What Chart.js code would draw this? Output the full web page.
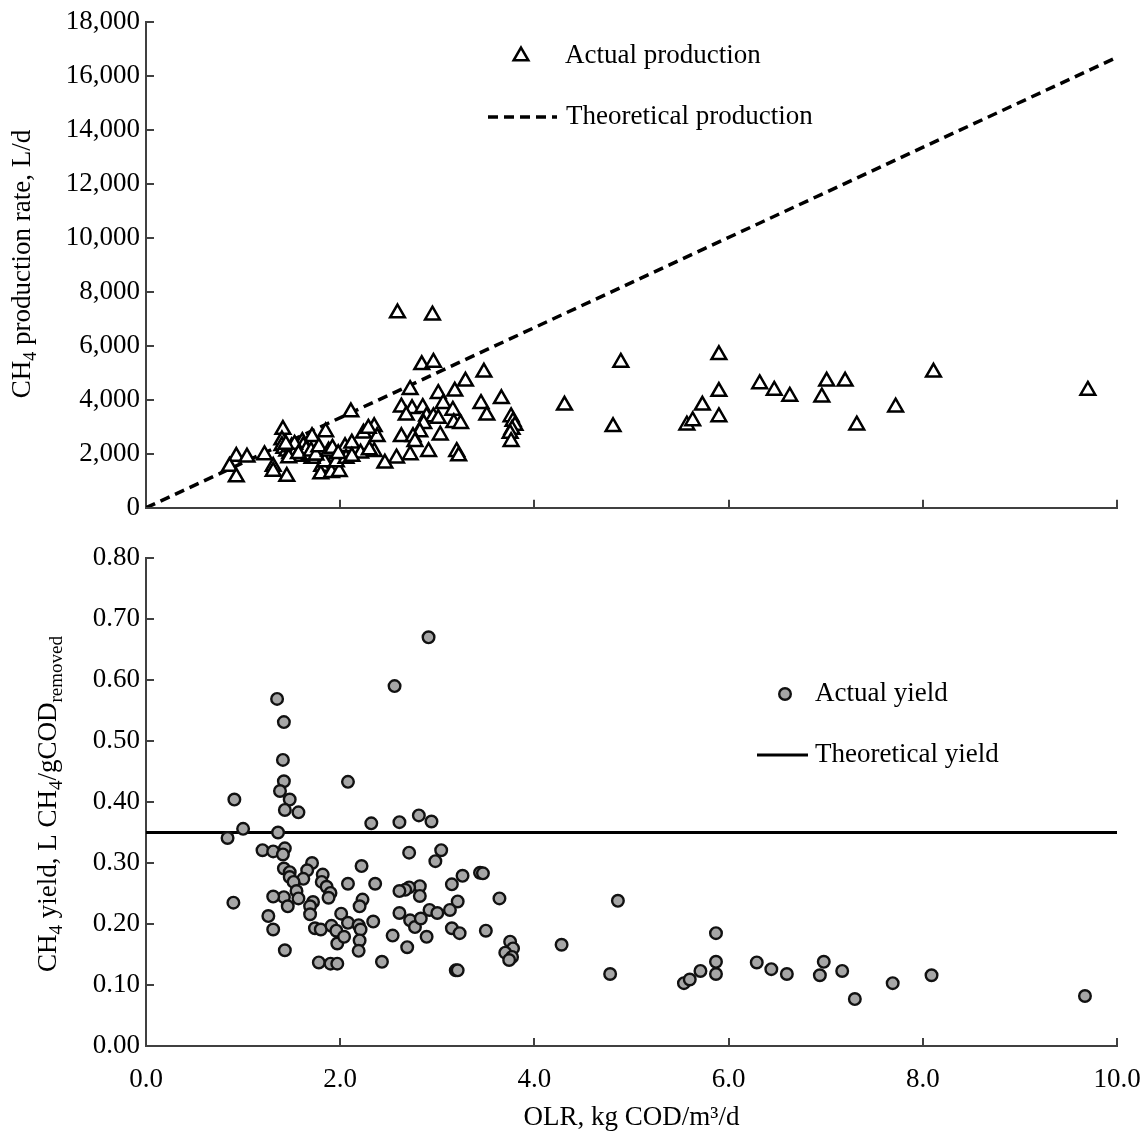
<!DOCTYPE html>
<html>
<head>
<meta charset="utf-8">
<script src="https://cdn.jsdelivr.net/npm/chart.js@4.4.1/dist/chart.umd.min.js"></script>
<style>
  html, body { margin: 0; padding: 0; background: #fff; }
  #wrap { position: relative; width: 1145px; height: 1137px; }
  #topBox { position: absolute; left: 0; top: 0; }
  #botBox { position: absolute; left: 0; top: 530px; }
</style>
</head>
<body>
<div id="wrap">
  <div id="topBox"><canvas id="prodChart" width="1145" height="530"></canvas></div>
  <div id="botBox"><canvas id="yieldChart" width="1145" height="607"></canvas></div>
</div>
<script>
// Top panel: CH4 production rate (L/d) vs OLR
const prodOLR = [
  2.59, 2.95, 2.84, 2.96, 3.48, 3.29, 2.72, 3.01, 3.18, 3.66, 3.06, 3.45, 2.63, 2.74, 2.85,
  2.68, 2.89, 3.16, 3.51, 2.96, 3.01, 3.17, 3.24, 2.86, 2.82, 2.35, 2.38, 2.63, 2.75, 3.03,
  2.77, 2.35, 2.72, 2.58, 2.46, 2.91, 3.20, 3.22, 3.76, 3.78, 3.80, 3.77, 3.75, 3.76,
  2.11, 1.41, 0.93, 1.04, 0.86, 0.93, 1.22, 1.31, 1.40, 1.40, 1.45, 1.31, 1.71, 1.85, 1.81,
  1.80, 1.91, 1.99, 2.05, 2.12, 2.24, 2.29, 2.21, 2.30, 1.88, 1.95, 1.54, 1.61, 1.84, 1.71,
  1.64, 1.96, 2.06, 2.12,
  1.42, 1.45, 1.48, 1.50, 1.52, 1.55, 1.58, 1.60, 1.62, 1.65, 1.68, 1.47, 1.53, 1.44, 1.57,
  1.70, 1.75, 1.78, 1.88, 1.92, 1.98,
  4.31, 4.81, 4.89, 5.57, 5.63, 5.73, 5.90, 5.90, 5.90, 6.32, 6.47, 6.63, 6.96, 7.01, 7.20,
  7.32, 7.72, 8.11, 9.70
];
const prodRate = [
  7220, 7140, 5300, 5390, 5020, 4690, 4380, 4230, 4320, 4040, 3860, 3860, 3730, 3670, 3710,
  3430, 3390, 3610, 3430, 3370, 3310, 3150, 3120, 3120, 2810, 3000, 2630, 2630, 2630, 2690,
  2450, 2080, 1960, 1840, 1650, 2080, 2080, 1920, 3370, 3200, 3050, 2900, 2750, 2450,
  3550, 2900, 1900, 1870, 1530, 1140, 1960, 1530, 2510, 2300, 1160, 1350, 2630, 2810, 1530,
  1250, 1300, 1340, 2260, 2390, 2760, 2940, 2020, 2140, 1960, 1900, 2260, 2450, 1700, 1830,
  2010, 1700, 1830, 1900,
  2200, 2100, 2000, 2250, 1950, 2150, 2050, 1900, 2300, 2150, 1950, 1850, 2350, 2350, 2000,
  2100, 1950, 2250, 2100, 2200, 2000,
  3800, 3000, 5390, 3060, 3220, 3800, 5670, 4310, 3370, 4590, 4350, 4130, 4100, 4690, 4690,
  3060, 3730, 5020, 4350
];
const theoOLR = [0, 10];
const theoProd = [0, 16700];

// Bottom panel: CH4 yield (L CH4/g COD removed) vs OLR
const yieldOLR = [
  2.91, 2.56, 1.35, 1.42, 1.41, 1.42, 1.38, 1.48, 1.43, 1.57, 0.91, 2.08, 1.00, 0.84, 1.36,
  2.32, 2.61, 2.81, 2.94, 1.20, 1.31, 1.43, 1.41, 2.71, 3.04, 2.98, 1.71, 1.66, 2.22, 1.42,
  1.48, 1.48, 1.62, 1.82, 1.81, 1.86, 1.90, 1.88, 1.52, 1.55, 1.57, 1.42, 1.31, 1.46, 0.90,
  2.08, 2.36, 2.82, 2.71, 2.67, 2.61, 2.82, 3.15, 3.26, 3.44, 3.64, 3.21, 3.13, 2.92, 3.00,
  2.61, 2.23, 2.20, 1.72, 1.69, 1.69, 1.26, 2.01, 1.31, 1.43, 1.74, 1.80, 1.78, 1.90, 1.97,
  1.91, 1.96, 1.97, 2.08, 2.04, 2.19, 2.21, 2.20, 2.19, 2.34, 2.43, 2.54, 2.69, 2.72, 2.77,
  2.83, 2.89, 3.15, 3.23, 3.19, 3.21, 3.50, 3.47, 3.75, 3.78, 3.70, 3.77, 3.74,
  4.28, 4.86, 4.78, 5.54, 5.60, 5.71, 5.87, 5.87, 5.87, 6.29, 6.44, 6.60, 6.94, 6.98, 7.17,
  7.30, 7.69, 8.09, 9.67
];
const yieldVal = [
  0.670, 0.590, 0.569, 0.531, 0.469, 0.434, 0.418, 0.404, 0.387, 0.383, 0.404, 0.433, 0.356, 0.341, 0.350,
  0.365, 0.367, 0.378, 0.368, 0.321, 0.319, 0.324, 0.314, 0.317, 0.321, 0.303, 0.300, 0.288, 0.295, 0.291,
  0.285, 0.277, 0.274, 0.281, 0.269, 0.261, 0.251, 0.243, 0.269, 0.254, 0.242, 0.244, 0.245, 0.229, 0.235,
  0.266, 0.266, 0.262, 0.260, 0.256, 0.254, 0.246, 0.265, 0.279, 0.284, 0.242, 0.237, 0.223, 0.223, 0.218,
  0.218, 0.240, 0.229, 0.236, 0.229, 0.216, 0.213, 0.217, 0.191, 0.157, 0.193, 0.191, 0.137, 0.135, 0.135,
  0.197, 0.189, 0.168, 0.202, 0.179, 0.198, 0.191, 0.173, 0.156, 0.204, 0.138, 0.181, 0.162, 0.206, 0.195,
  0.209, 0.179, 0.193, 0.185, 0.124, 0.124, 0.189, 0.283, 0.171, 0.160, 0.153, 0.146, 0.141,
  0.166, 0.238, 0.118, 0.103, 0.109, 0.123, 0.185, 0.138, 0.118, 0.137, 0.126, 0.118, 0.116, 0.138, 0.123,
  0.077, 0.103, 0.116, 0.082
];
const theoYield = [0.35, 0.35];

const FONT = "'Liberation Serif', 'Times New Roman', serif";
const AXIS_COLOR = '#404040';

// Pair x and y arrays into points
function toPoints(xs, ys) {
  return xs.map((x, i) => ({ x: x, y: ys[i] }));
}

// Draw text with subscripts, rotated for a y-axis title
function drawRichVertical(ctx, parts, cx, cy, size, subRatio) {
  const subSize = Math.round(size * subRatio);
  ctx.save();
  let total = 0;
  parts.forEach(p => {
    ctx.font = (p.sub ? subSize : size) + 'px ' + FONT;
    p.w = ctx.measureText(p.t).width;
    total += p.w;
  });
  ctx.translate(cx, cy);
  ctx.rotate(-Math.PI / 2);
  ctx.fillStyle = '#000';
  ctx.textBaseline = 'alphabetic';
  ctx.textAlign = 'left';
  let x = -total / 2;
  const base = size * 0.35;
  parts.forEach(p => {
    ctx.font = (p.sub ? subSize : size) + 'px ' + FONT;
    ctx.fillText(p.t, x, p.sub ? base + size * 0.2 : base);
    x += p.w;
  });
  ctx.restore();
}

// Inside tick marks, y titles and the floating legends
const panelDecor = {
  id: 'panelDecor',
  afterDraw(chart, args, opts) {
    const ctx = chart.ctx;
    const xs = chart.scales.x;
    const ys = chart.scales.y;
    const area = chart.chartArea;
    ctx.save();
    ctx.strokeStyle = AXIS_COLOR;
    ctx.lineWidth = 2;
    ys.ticks.forEach(t => {
      const py = Math.round(ys.getPixelForValue(t.value));
      ctx.beginPath();
      ctx.moveTo(area.left, py);
      ctx.lineTo(area.left + 8, py);
      ctx.stroke();
    });
    xs.ticks.forEach(t => {
      if (t.value === xs.min) return;
      const px = Math.round(xs.getPixelForValue(t.value));
      ctx.beginPath();
      ctx.moveTo(px, area.bottom);
      ctx.lineTo(px, area.bottom - 8);
      ctx.stroke();
    });
    ctx.restore();

    drawRichVertical(ctx, opts.title, opts.titleX, opts.titleY, 27, opts.subRatio);

    // legend
    ctx.save();
    ctx.font = '27px ' + FONT;
    ctx.textBaseline = 'middle';
    const m = opts.legendMarker;
    const ds0 = chart.data.datasets[0];
    ctx.fillStyle = ds0.pointBackgroundColor;
    ctx.strokeStyle = ds0.pointBorderColor;
    ctx.lineWidth = ds0.pointBorderWidth;
    Chart.helpers.drawPoint(ctx, {
      pointStyle: ds0.pointStyle,
      radius: ds0.pointRadius,
      rotation: 0,
      borderWidth: ds0.pointBorderWidth
    }, m.x, m.y);
    ctx.fillStyle = '#000';
    ctx.fillText(ds0.label, m.textX, m.y);

    const l = opts.legendLine;
    const ds1 = chart.data.datasets[1];
    ctx.strokeStyle = ds1.borderColor;
    ctx.lineWidth = ds1.borderWidth;
    ctx.setLineDash(ds1.borderDash || []);
    ctx.beginPath();
    ctx.moveTo(l.x1, l.y);
    ctx.lineTo(l.x2, l.y);
    ctx.stroke();
    ctx.setLineDash([]);
    ctx.fillText(ds1.label, l.textX, l.y);
    ctx.restore();
  }
};

const tickFont = { family: FONT, size: 27 };

// Top chart: production rate
new Chart(document.getElementById('prodChart'), {
  type: 'scatter',
  data: {
    datasets: [
      {
        label: 'Actual production',
        data: toPoints(prodOLR, prodRate),
        pointStyle: 'triangle',
        pointRadius: 8.5,
        pointBackgroundColor: '#fff',
        pointBorderColor: '#000',
        pointBorderWidth: 2.5
      },
      {
        label: 'Theoretical production',
        data: toPoints(theoOLR, theoProd),
        showLine: true,
        borderColor: '#000',
        borderWidth: 3.5,
        borderDash: [10, 6],
        pointRadius: 0,
        fill: false
      }
    ]
  },
  options: {
    responsive: false,
    animation: false,
    layout: { padding: { top: 18, right: 28, bottom: 22, left: 0 } },
    plugins: {
      legend: { display: false },
      tooltip: { enabled: false },
      panelDecor: {
        title: [{ t: 'CH' }, { t: '4', sub: true }, { t: ' production rate, L/d' }],
        titleX: 21,
        titleY: 264,
        subRatio: 0.65,
        legendMarker: { x: 521, y: 56, textX: 565 },
        legendLine: { x1: 488, x2: 557, y: 117, textX: 566 }
      }
    },
    scales: {
      x: {
        type: 'linear',
        min: 0,
        max: 10,
        ticks: { display: false, stepSize: 2 },
        grid: { display: false, drawTicks: false },
        border: { display: true, color: AXIS_COLOR, width: 2 },
        afterFit: s => { s.height = 0; }
      },
      y: {
        min: 0,
        max: 18000,
        ticks: {
          stepSize: 2000,
          font: tickFont,
          color: '#000',
          padding: 6,
          callback: v => v.toLocaleString('en-US')
        },
        grid: { display: false, drawTicks: false },
        border: { display: true, color: AXIS_COLOR, width: 2 },
        afterFit: s => { s.width = 146; }
      }
    }
  },
  plugins: [panelDecor]
});

// Bottom chart: yield
new Chart(document.getElementById('yieldChart'), {
  type: 'scatter',
  data: {
    datasets: [
      {
        label: 'Actual yield',
        data: toPoints(yieldOLR, yieldVal),
        pointStyle: 'circle',
        pointRadius: 5.8,
        pointBackgroundColor: '#a6a6a6',
        pointBorderColor: '#111',
        pointBorderWidth: 2.4
      },
      {
        label: 'Theoretical yield',
        data: toPoints(theoOLR, theoYield),
        showLine: true,
        borderColor: '#000',
        borderWidth: 3,
        pointRadius: 0,
        fill: false
      }
    ]
  },
  options: {
    responsive: false,
    animation: false,
    layout: { padding: { top: 28, right: 28, bottom: 0, left: 0 } },
    plugins: {
      legend: { display: false },
      tooltip: { enabled: false },
      panelDecor: {
        title: [
          { t: 'CH' }, { t: '4', sub: true }, { t: ' yield, L CH' }, { t: '4', sub: true },
          { t: '/gCOD' }, { t: 'removed', sub: true }
        ],
        titleX: 47,
        titleY: 274,
        subRatio: 0.72,
        legendMarker: { x: 785, y: 164, textX: 815 },
        legendLine: { x1: 757, x2: 808, y: 225, textX: 815 }
      }
    },
    scales: {
      x: {
        type: 'linear',
        min: 0,
        max: 10,
        ticks: {
          stepSize: 2,
          font: tickFont,
          color: '#000',
          padding: 18,
          maxRotation: 0,
          callback: v => v.toFixed(1)
        },
        grid: { display: false, drawTicks: false },
        border: { display: true, color: AXIS_COLOR, width: 2 },
        title: {
          display: true,
          text: 'OLR, kg COD/m³/d',
          font: tickFont,
          color: '#000',
          padding: { top: 0, bottom: 3 }
        },
        afterFit: s => { s.height = 91; s.paddingRight = 0; s.paddingLeft = 0; }
      },
      y: {
        min: 0,
        max: 0.8,
        ticks: {
          stepSize: 0.1,
          font: tickFont,
          color: '#000',
          padding: 6,
          callback: v => v.toFixed(2)
        },
        grid: { display: false, drawTicks: false },
        border: { display: true, color: AXIS_COLOR, width: 2 },
        afterFit: s => { s.width = 146; }
      }
    }
  },
  plugins: [panelDecor]
});
</script>
</body>
</html>
